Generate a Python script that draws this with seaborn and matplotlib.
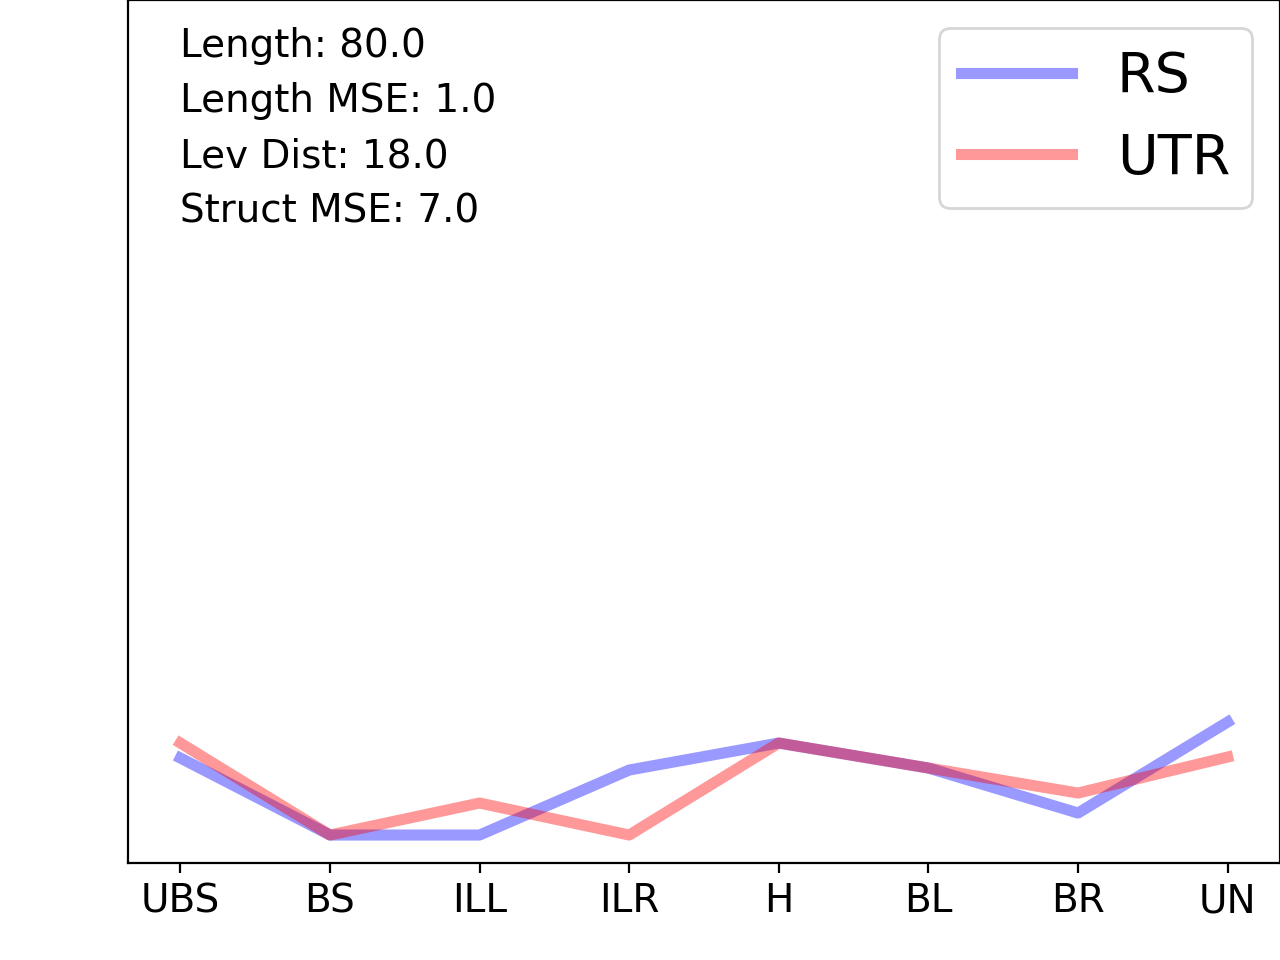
import matplotlib
matplotlib.use('Agg')
import matplotlib.pyplot as plt
import seaborn as sns

# structure element categories
categories = ['UBS', 'BS', 'ILL', 'ILR', 'H', 'BL', 'BR', 'UN']
rs_values = [0.77, 0.0, 0.0, 0.65, 0.92, 0.67, 0.22, 1.13]
utr_values = [0.92, 0.0, 0.32, 0.0, 0.92, 0.67, 0.42, 0.78]

stats_lines = ['Length: 80.0', 'Length MSE: 1.0', 'Lev Dist: 18.0', 'Struct MSE: 7.0']

fig, ax = plt.subplots(figsize=(6.4, 4.8), dpi=200)
fig.subplots_adjust(left=0.1, right=1.0, bottom=0.101, top=1.0)

sns.lineplot(x=categories, y=rs_values, color='blue', alpha=0.4, linewidth=4, label='RS', ax=ax, sort=False)
sns.lineplot(x=categories, y=utr_values, color='red', alpha=0.4, linewidth=4, label='UTR', ax=ax, sort=False)

ax.set_ylim(-0.28, 8.35)
ax.set_yticks([])
ax.tick_params(axis='x', labelsize=14)

# one stats line per text, stacked from the top
for i, line in enumerate(stats_lines):
    ax.text(0.045, 0.934 - i * 0.064, line, transform=ax.transAxes,
            fontsize=14, va='baseline', ha='left')

ax.legend(loc='upper right', fontsize=20)

plt.savefig('out.png', dpi=200)
